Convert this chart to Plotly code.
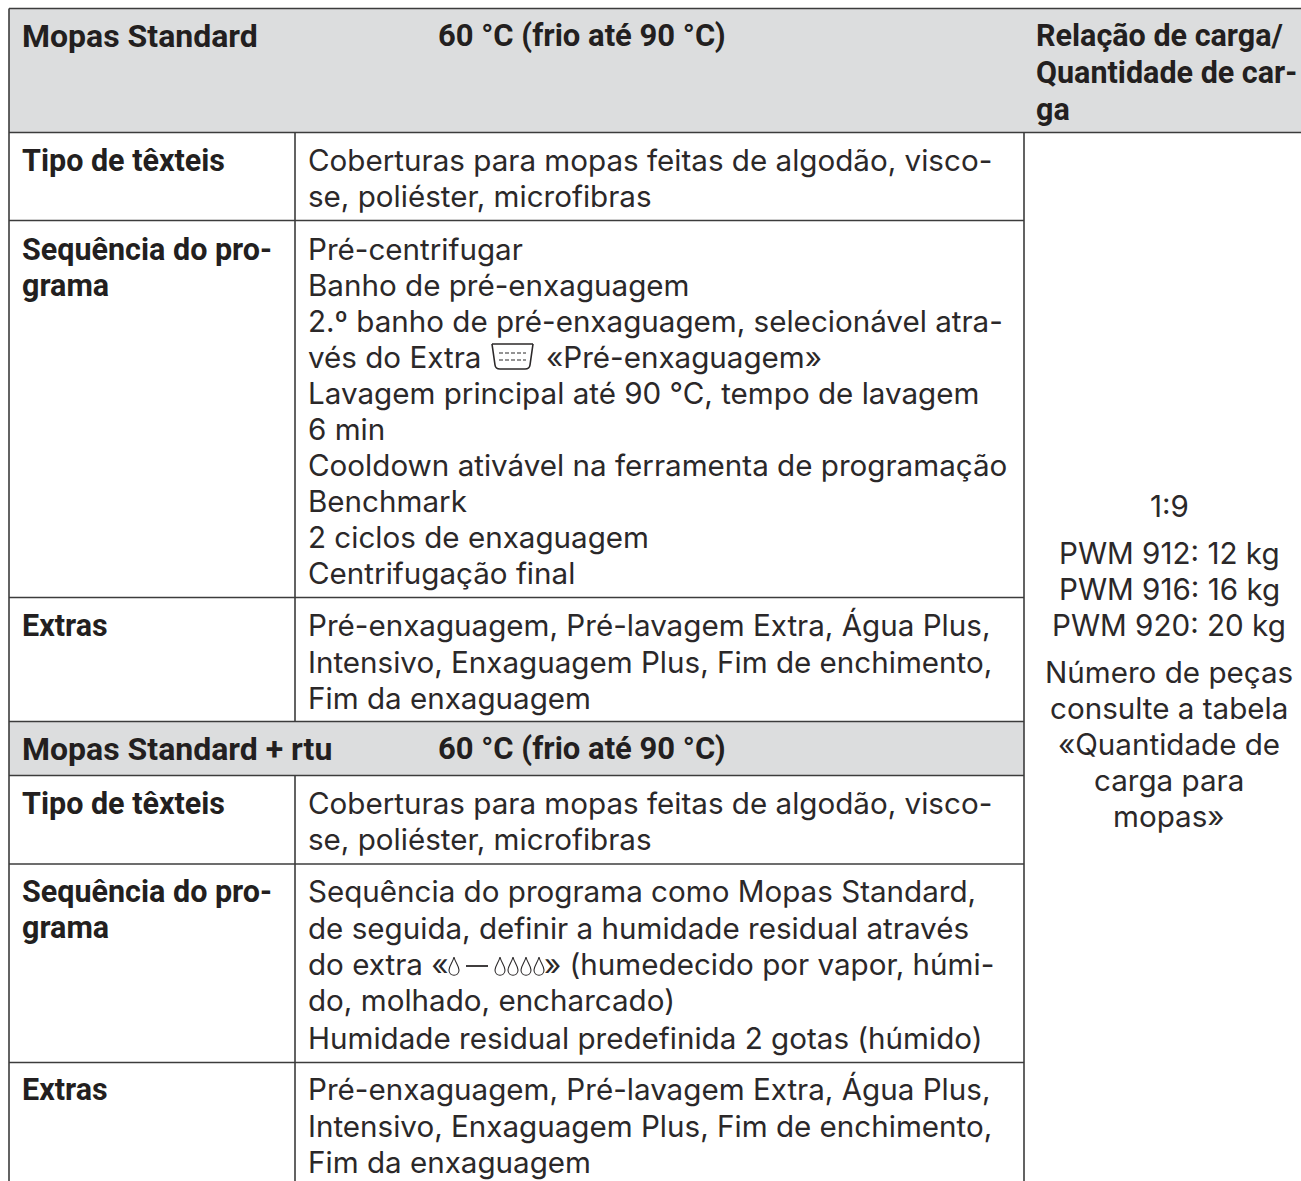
import plotly.graph_objects as go

# ---- text content ----
header_main = ["Mopas Standard", "Mopas Standard + rtu"]
header_temp = ["60 °C (frio até 90 °C)", "60 °C (frio até 90 °C)"]
header_right = ["Relação de carga/", "Quantidade de car-", "ga"]
row_labels = ["Tipo de têxteis", "Sequência do pro-", "grama", "Extras",
              "Tipo de têxteis", "Sequência do pro-", "grama", "Extras"]
body_lines = [
    "Coberturas para mopas feitas de algodão, visco-",
    "se, poliéster, microfibras",
    "Pré-centrifugar",
    "Banho de pré-enxaguagem",
    "2.º banho de pré-enxaguagem, selecionável atra-",
    "vés do Extra",
    "Lavagem principal até 90 °C, tempo de lavagem",
    "6 min",
    "Cooldown ativável na ferramenta de programação",
    "Benchmark",
    "2 ciclos de enxaguagem",
    "Centrifugação final",
    "Pré-enxaguagem, Pré-lavagem Extra, Água Plus,",
    "Intensivo, Enxaguagem Plus, Fim de enchimento,",
    "Fim da enxaguagem",
    "Coberturas para mopas feitas de algodão, visco-",
    "se, poliéster, microfibras",
    "Sequência do programa como Mopas Standard,",
    "de seguida, definir a humidade residual através",
    "do extra «",
    "do, molhado, encharcado)",
    "Humidade residual predefinida 2 gotas (húmido)",
    "Pré-enxaguagem, Pré-lavagem Extra, Água Plus,",
    "Intensivo, Enxaguagem Plus, Fim de enchimento,",
    "Fim da enxaguagem",
]
inline_after_icon = "«Pré-enxaguagem»"
inline_after_drops = "» (humedecido por vapor, húmi-"
side_lines = ["1:9", "PWM 912: 12 kg", "PWM 916: 16 kg", "PWM 920: 20 kg",
              "Número de peças", "consulte a tabela", "«Quantidade de",
              "carga para", "mopas»"]

# ---- layout geometry (pixels); text rows are given by their baselines ----
W, H = 1301, 1181
LEFT, COL1, COL2 = 9, 295, 1024
TOP, HEAD1, HEAD2_T, HEAD2_B = 8.5, 132.5, 721.5, 775.5
row_rules_mid = [220.5, 597.5, 864, 1062.5]
label_base = [170.7, 260, 295.7, 636, 814, 901.7, 938.3, 1100]
body_base = [170.7, 206.7, 260, 295.7, 331.7, 367.7, 403.3, 439.3, 475.7, 511.7, 547.3, 583.3,
             636, 672.7, 708.3, 814, 850, 901.7, 938.3, 974.3, 1010.5, 1048.5, 1100, 1136.7, 1172.3]
side_base = [517, 564, 600, 636, 683, 719, 755, 791, 827]
head_base = [46, 759.3]
head_right_base = [46, 83, 120]
BODY_OFF, BOLD_OFF = 10.7, 10.5
PAD = 2  # annotation box padding

BODY_FONT = dict(family="Inter", size=29.6, color="#2b2829")
LABEL_FONT = dict(family="Roboto", size=30.5, color="#231f20", weight=700)
HEAD_FONT = dict(family="Roboto", size=32, color="#231f20", weight=700)
TEMP_FONT = dict(family="Roboto", size=31, color="#231f20", weight=700)
RULE = "#3c3c3c"
FILL = "#dcddde"

ann = []
def put(x, y, text, font, anchor="left"):
    ann.append(dict(x=x - (PAD if anchor == "left" else 0), y=y, text=text, showarrow=False,
                    xanchor=anchor, yanchor="middle", xref="x", yref="y", font=font, align=anchor))

for b, t in zip(head_base, header_main):
    put(22, b - BOLD_OFF, t, HEAD_FONT)
for b, t in zip(head_base, header_temp):
    put(438, b - BOLD_OFF, t, TEMP_FONT)
for b, t in zip(head_right_base, header_right):
    put(1036, b - BOLD_OFF, t, LABEL_FONT)
for b, t in zip(label_base, row_labels):
    put(22, b - BOLD_OFF, t, LABEL_FONT)
for b, t in zip(body_base, body_lines):
    put(308, b - BODY_OFF, t, BODY_FONT)
put(546, 367.7 - BODY_OFF, inline_after_icon, BODY_FONT)
put(544, 974.3 - BODY_OFF, inline_after_drops, BODY_FONT)
for b, t in zip(side_base, side_lines):
    put(1169, b - BODY_OFF, t, BODY_FONT, "center")

shapes = []
def rect(x0, y0, x1, y1):
    shapes.append(dict(type="rect", x0=x0, y0=y0, x1=x1, y1=y1, fillcolor=FILL, line_width=0, layer="below"))
def line(x0, y0, x1, y1, w=1.6):
    shapes.append(dict(type="line", x0=x0, y0=y0, x1=x1, y1=y1, line=dict(color=RULE, width=w)))

rect(LEFT, TOP, W, HEAD1)
rect(LEFT, HEAD2_T, COL2, HEAD2_B)
line(LEFT, TOP, W, TOP)
line(LEFT, HEAD1, W, HEAD1)
line(LEFT, HEAD2_T, COL2, HEAD2_T)
line(LEFT, HEAD2_B, COL2, HEAD2_B)
for y in row_rules_mid:
    line(LEFT, y, COL2, y)
line(LEFT, TOP, LEFT, H)
line(COL2, HEAD1, COL2, H)
line(COL1, HEAD1, COL1, HEAD2_T)
line(COL1, HEAD2_B, COL1, H)

# wash-basin pictogram and drop pictograms are drawn as small vector shapes
ICON = dict(color="#2b2829", width=1.6)
shapes.append(dict(type="path", path="M 492 344 L 495 365 Q 495.5 369 500 369 L 525 369 Q 529.5 369 530 365 L 533 344",
                   line=ICON))
shapes.append(dict(type="line", x0=492, y0=344, x1=533, y1=344, line=ICON))
for dy in (353, 360):
    shapes.append(dict(type="line", x0=499, y0=dy, x1=526, y1=dy,
                       line=dict(color="#2b2829", width=1.2, dash="4px,2px")))
def drop(cx, cy=968):
    shapes.append(dict(type="path",
        path=f"M {cx} {cy-11} C {cx+1} {cy-6} {cx+5} {cy-2} {cx+5} {cy+2} C {cx+5} {cy+9} {cx-5} {cy+9} {cx-5} {cy+2} C {cx-5} {cy-2} {cx-1} {cy-6} {cx} {cy-11} Z",
        line=dict(color="#2b2829", width=1.1)))
for cx in (454, 500, 513, 526, 539):
    drop(cx)
shapes.append(dict(type="line", x0=466, y0=966, x1=488, y1=966, line=dict(color="#2b2829", width=1.8)))

fig = go.Figure()
fig.update_layout(
    width=W, height=H, margin=dict(l=0, r=0, t=0, b=0),
    paper_bgcolor="white", plot_bgcolor="white", showlegend=False,
    xaxis=dict(range=[0, W], visible=False, fixedrange=True),
    yaxis=dict(range=[H, 0], visible=False, fixedrange=True),
    annotations=ann, shapes=shapes,
)
fig.write_html("out.html", config=dict(displayModeBar=False),
               post_script="document.body.style.margin='0';document.body.style.overflow='hidden';")
